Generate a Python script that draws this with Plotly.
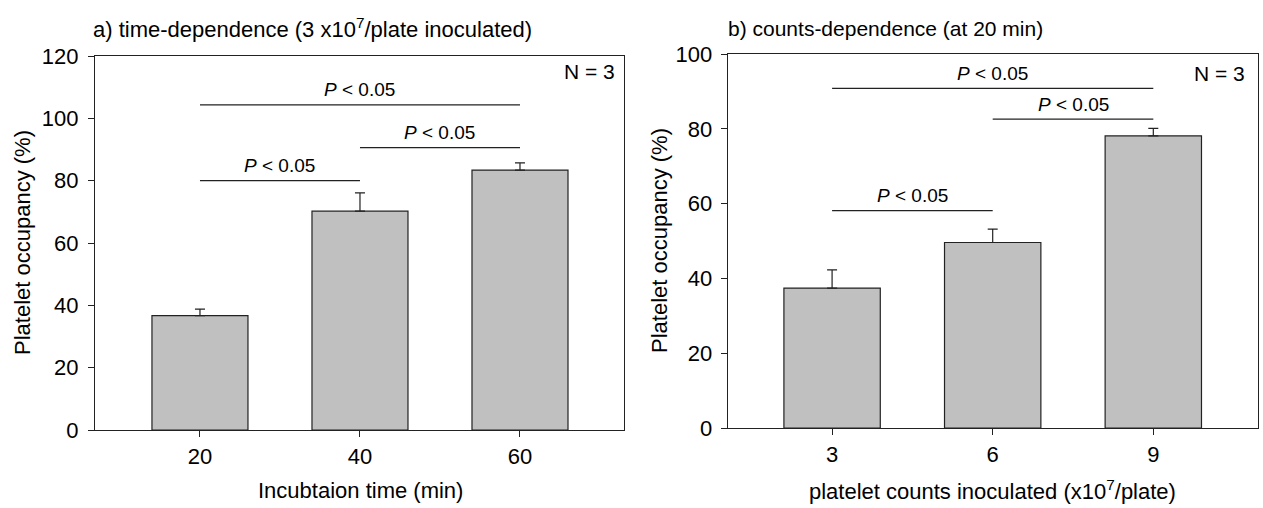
import plotly.graph_objects as go

# ---- data ----
time_cats = ["20", "40", "60"]
time_means = [36.7, 70.2, 83.4]
time_err = [2.1, 5.9, 2.3]
time_sig_from = [0, 1, 0]
time_sig_to = [1, 2, 2]
time_sig_y = [80.0, 90.6, 104.3]

count_cats = ["3", "6", "9"]
count_means = [37.4, 49.6, 78.1]
count_err = [4.9, 3.6, 2.0]
count_sig_from = [0, 1, 0]
count_sig_to = [1, 2, 2]
count_sig_y = [58.1, 82.6, 90.8]

sig_label = "<i>P</i> < 0.05"
n_label = "N = 3"

W, H = 1263, 508
FONT = "Liberation Sans, Arial, sans-serif"
BAR = "#c0c0c0"
LINE = "#222222"
FS = 22

fig = go.Figure()

def add_bars(cats, means, errs, xa, ya):
    fig.add_trace(go.Bar(
        x=cats, y=means, width=0.6,
        marker=dict(color=BAR, line=dict(color=LINE, width=1.2)),
        error_y=dict(type="data", array=errs, arrayminus=[0] * len(errs),
                     symmetric=False, color=LINE, thickness=1.2, width=5),
        xaxis=xa, yaxis=ya, showlegend=False, hoverinfo="skip"))

add_bars(time_cats, time_means, time_err, "x", "y")
add_bars(count_cats, count_means, count_err, "x2", "y2")

annotations = []
shapes = []

def add_sig(froms, tos, ys, xref, yref):
    for a, b, yv in zip(froms, tos, ys):
        shapes.append(dict(type="line", xref=xref, yref=yref, x0=a, x1=b,
                           y0=yv, y1=yv, line=dict(color=LINE, width=1.2)))
        annotations.append(dict(xref=xref, yref=yref, x=(a + b) / 2, y=yv,
                                text=sig_label, showarrow=False,
                                yanchor="middle", yshift=15,
                                font=dict(size=19, family=FONT, color="black")))

add_sig(time_sig_from, time_sig_to, time_sig_y, "x", "y")
add_sig(count_sig_from, count_sig_to, count_sig_y, "x2", "y2")

def px_x(p):
    return p / W

def px_y(p):
    return 1 - p / H

def txt(x, y, text, xanchor="center", angle=0, size=FS):
    annotations.append(dict(xref="paper", yref="paper", x=px_x(x), y=px_y(y),
                            text=text, showarrow=False, xanchor=xanchor,
                            yanchor="middle", textangle=angle,
                            font=dict(size=size, family=FONT, color="black")))

# N labels
txt(617, 72, n_label, "right", size=21)
txt(1247, 74, n_label, "right", size=21)

# panel titles
txt(91, 28, "a) time-dependence (3 x10<sup>7</sup>/plate inoculated)", "left")
txt(726, 28, "b) counts-dependence (at 20 min)", "left", size=21)

# axis titles
txt(22, 243, "Platelet occupancy (%)", angle=-90)
txt(659, 241, "Platelet occupancy (%)", angle=-90)
txt(360, 490, "Incubtaion time (min)")
txt(993, 490, "platelet counts inoculated (x10<sup>7</sup>/plate)")

axis_common = dict(showline=True, linecolor=LINE, linewidth=1.2, mirror=True,
                   ticks="outside", ticklen=6, tickcolor=LINE, tickwidth=1.2,
                   showgrid=False, zeroline=False, automargin=False,
                   tickfont=dict(size=FS, family=FONT, color="black"))

fig.update_layout(
    width=W, height=H, autosize=False,
    margin=dict(l=0, r=0, t=0, b=0, pad=0, autoexpand=False),
    paper_bgcolor="white", plot_bgcolor="white",
    bargap=0.4,
    xaxis=dict(domain=[px_x(95), px_x(624)], type="category", range=[-0.656, 2.65],
               anchor="y", ticklabelstandoff=0, **axis_common),
    yaxis=dict(domain=[px_y(430), px_y(56)], range=[0, 120], dtick=20, anchor="x",
               ticklabelstandoff=5, **axis_common),
    xaxis2=dict(domain=[px_x(727.7), px_x(1257.7)], type="category", range=[-0.65, 2.65],
                anchor="y2", ticklabelstandoff=0, **axis_common),
    yaxis2=dict(domain=[px_y(428), px_y(54)], range=[0, 100], dtick=20, anchor="x2",
                ticklabelstandoff=4, **axis_common),
    annotations=annotations,
    shapes=shapes,
)

fig.write_html("out.html")
